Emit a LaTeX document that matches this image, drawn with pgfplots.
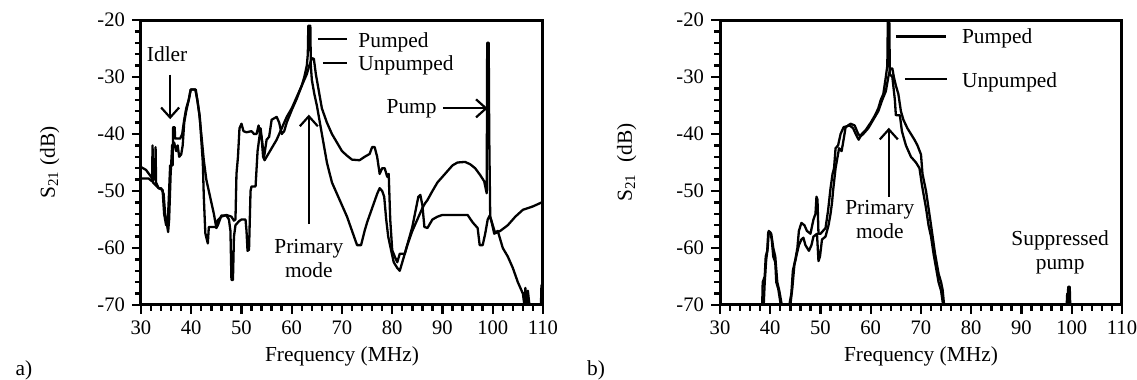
\documentclass[border=0pt]{standalone}
\usepackage{fontspec}
\setmainfont{Liberation Serif}
\usepackage{pgfplots}
\pgfplotsset{compat=1.18}
\usetikzlibrary{arrows.meta}

\pgfplotsset{
  myax/.style={
    scale only axis, width=201pt, height=142.5pt,
    xmin=30, xmax=110, ymin=-70, ymax=-20,
    xtick={30,40,...,110}, ytick={-70,-60,...,-20},
    minor xtick={32,34,...,108}, minor ytick={-68,-66,...,-22},
    xticklabels={30,40,50,60,70,80,90,100,110},
    yticklabels={-70,-60,-50,-40,-30,-20},
    xtick pos=bottom, ytick pos=left, tick align=outside,
    major tick length=4.5pt, minor tick length=3pt,
    every tick/.style={black, line width=1.2pt},
    axis line style={line width=1.5pt},
    tick label style={font=\fontsize{10.3}{12}\selectfont},
    label style={font=\fontsize{10.7}{12.6}\selectfont},
    xlabel={Frequency (MHz)},
    xlabel style={at={(axis description cs:0.5,-0.182)}, anchor=center},
    every axis plot post/.append style={black, line width=1.15pt, line join=round, mark=none},
  },
}
\tikzset{
  arr/.style={line width=1.1pt, -{Straight Barb[length=5pt,width=9pt,line width=1.1pt]}},
  ann/.style={font=\fontsize{10.7}{12}\selectfont, inner sep=0pt},
}

\begin{document}
\begin{tikzpicture}
\useasboundingbox (0,0) rectangle (568.5pt,190pt);

% ---------------- panel a ----------------
\begin{axis}[myax, at={(70.5pt,37.5pt)}, anchor=south west,
  ylabel={S\textsubscript{21} (dB)},
  ylabel style={at={(axis description cs:-0.227,0.5)}, anchor=center}]
% pumped
\addplot coordinates {
(30,-47.8) (31.5,-47.8) (32.2,-48.3) (32.3,-42) (32.4,-48.5) (33.5,-49.5) (34.3,-49.8) (34.6,-54) (35,-56) (35.3,-56) (35.5,-52) (35.8,-45.5) (36.3,-45.5) (36.4,-38.8) (36.7,-38.8) (36.8,-40.8) (37.8,-40.8) (38.2,-40) (38.6,-37.5) (39,-35.5) (39.5,-34) (39.9,-32.2) (40.9,-32.2) (41.3,-34.5) (41.7,-37) (42,-41) (42.3,-45) (42.5,-51) (42.8,-57.4) (43.1,-58.5) (43.3,-59.2) (43.5,-56.3) (45,-56.3) (45.2,-55.2) (46,-54.5) (47,-54.2) (48,-54.5) (48.5,-55.2) (48.8,-55) (49,-47) (49.3,-44) (49.6,-39) (50,-38.2) (50.4,-39.5) (51,-39.7) (52,-39.5) (52.5,-40) (53,-40) (53.4,-38.5) (53.7,-40) (54,-40.5) (54.3,-44) (54.6,-44.6) (55,-44) (56,-42.5) (57,-41) (58,-39) (59,-37) (60,-35.5) (61,-33.5) (62,-31.5) (62.5,-30) (63,-28) (63.2,-26) (63.3,-21) (63.7,-21) (63.8,-28) (64,-30.5) (64.5,-33) (65,-35) (65.5,-37.5) (66,-40) (66.5,-42.5) (67,-45) (68,-48.5) (69,-50.5) (70,-52.5) (71,-54.5) (72,-57) (73,-59.5) (73.8,-59.5) (74.5,-57) (75,-55.5) (76,-53) (77,-50.5) (77.5,-49.5) (78,-50) (78.4,-51) (78.8,-55) (79.2,-58) (79.8,-60.5) (80.3,-62.5) (81,-63.5) (81.5,-64) (82,-62.5) (83,-59.5) (84,-57) (85,-55) (86,-53) (86.5,-52.2) (87,-51.6) (88,-50) (89,-48.5) (90,-47.5) (91,-46.5) (92,-45.5) (93,-45) (94.5,-44.9) (95.5,-45.3) (96.5,-46) (97.5,-47.2) (98.3,-48.3) (98.8,-50.4) (98.9,-24) (99.2,-24) (99.3,-40) (99.5,-54.5) (100,-56) (100.5,-57.4) (101.5,-57) (103,-56) (104.5,-54.5) (106,-53.3) (108,-52.7) (110,-51.9)
};
% unpumped
\addplot coordinates {
(30,-45.8) (31,-46.3) (32,-47.5) (32.8,-48) (32.9,-42.3) (33,-48.5) (33.5,-49.5) (34,-49.5) (34.5,-50.5) (34.8,-54) (35.1,-55.5) (35.4,-57.2) (35.6,-55) (35.9,-47) (36.2,-42) (36.6,-41.5) (37,-43) (37.3,-42) (37.6,-44) (38,-43.6) (38.3,-42) (38.6,-38) (39,-36) (39.5,-34) (39.9,-32.2) (40.8,-32.2) (41.2,-34) (41.6,-36.5) (42,-40) (42.5,-44.6) (43,-48) (43.5,-50) (44,-52) (44.5,-54) (45,-56.5) (45.3,-56) (46,-54.3) (47,-54.3) (47.5,-55) (47.8,-57) (48,-65.6) (48.3,-65.6) (48.5,-58) (48.8,-56) (49.5,-55.3) (50,-55) (50.8,-55) (51,-57) (51.2,-60.5) (51.5,-60.3) (51.8,-50) (52,-49.2) (52.8,-49.2) (53.2,-43) (53.5,-41) (53.8,-39) (54.2,-42) (54.5,-44) (55,-41) (55.5,-40.5) (56,-37.5) (57,-37) (57.5,-38) (58,-40) (58.5,-39.5) (59,-38) (60,-35.8) (61,-33.8) (62,-31.5) (63,-29.5) (63.5,-28) (64,-26.7) (64.4,-26.8) (64.8,-29.5) (65,-30.5) (65.5,-33) (66,-35.5) (67,-38) (68,-40) (69,-41.5) (70,-43) (71,-43.8) (72,-44.5) (73.5,-44.6) (74.5,-44) (75.5,-43.5) (76,-42.3) (76.5,-42.3) (77,-44) (77.5,-47) (78,-46) (78.5,-46) (79,-47.5) (79.3,-47) (79.6,-55) (80,-60.4) (80.5,-61.5) (81,-62.5) (81.5,-61) (82.5,-61) (84,-56.3) (85.2,-51) (85.6,-50.7) (86,-52.5) (86.4,-56.3) (87,-56.5) (88,-55) (89,-54.5) (90,-54.2) (95,-54.2) (96,-55.5) (97,-56.5) (97.4,-59.5) (98,-59.5) (98.5,-57.5) (99,-55) (99.4,-54.3) (99.8,-55.5) (100.3,-57.5) (101,-57) (102,-60) (103,-61.5) (104,-63.5) (105,-66) (106,-68) (106.3,-70) (106.5,-67) (106.7,-70) (107,-67.5) (107.3,-70) (109.6,-70) (109.7,-66.5) (110,-66.5)
};
\node[ann] at (axis cs:35.2,-26) {Idler};
\draw[arr] (axis cs:35.8,-29.6) -- (axis cs:35.8,-37.4);
\draw[line width=1.1pt] (axis cs:65.2,-23.4) -- (axis cs:71,-23.4);
\draw[line width=1.1pt] (axis cs:66.2,-27.5) -- (axis cs:71,-27.5);
\node[ann, anchor=west] at (axis cs:73.2,-24) {Pumped};
\node[ann, anchor=west] at (axis cs:73.2,-27.9) {Unpumped};
\node[ann, anchor=east] at (axis cs:88.9,-35.6) {Pump};
\draw[arr] (axis cs:90.1,-35.5) -- (axis cs:99,-35.5);
\draw[arr] (axis cs:63.4,-55.8) -- (axis cs:63.4,-36.6);
\node[ann, align=center] at (axis cs:63.4,-61.8) {Primary\\mode};
\end{axis}

% ---------------- panel b ----------------
\begin{axis}[myax, at={(360pt,37.5pt)}, anchor=south west,
  ylabel={S\textsubscript{21}\ \ (dB)},
  ylabel style={at={(axis description cs:-0.232,0.5)}, anchor=center}]
% pumped
\addplot coordinates {
(30,-70) (38.4,-70) (38.5,-66) (38.9,-65) (39.1,-61.5) (39.4,-60.5) (39.6,-57.2) (40,-57.2) (40.3,-58.5) (40.6,-61.5) (41,-62.5) (41.2,-66) (41.6,-67.2) (42.1,-70) (43.8,-70) (44.2,-68) (44.5,-64) (45,-62) (45.4,-60) (45.7,-57) (46.2,-55.6) (46.8,-56) (47.3,-57) (48,-57.5) (48.6,-55) (49,-54) (49.2,-51) (49.4,-51.5) (49.6,-57.5) (50,-57.5) (50.5,-57) (51,-56.5) (51.5,-53.5) (52,-49.5) (52.4,-47) (52.7,-46) (53,-42.5) (53.5,-42) (54,-40) (54.6,-38.8) (55.8,-38.5) (56.5,-39) (57,-40) (57.6,-41) (58.2,-40) (59,-39.3) (60,-38) (60.8,-36.8) (61.5,-35.5) (62,-34) (62.5,-33) (63,-30) (63.3,-28) (63.4,-20.3) (63.7,-20.3) (63.8,-29.5) (64.3,-30) (64.8,-34) (65,-36.7) (65.8,-36.7) (66.2,-39.5) (67,-42) (68,-44) (69,-45) (69.7,-46) (70.2,-49) (71,-53) (71.5,-56) (72,-58) (72.5,-61) (73,-63.5) (73.5,-66) (74,-67.5) (74.4,-70) (99,-70) (99.1,-68) (99.3,-68) (99.4,-70) (110,-70)
};
% unpumped
\addplot coordinates {
(30,-70) (38.7,-70) (38.9,-66) (39.2,-62) (39.5,-60) (39.7,-57) (40.2,-57.5) (40.6,-60) (41,-61.5) (41.4,-66) (41.8,-67.5) (42.3,-70) (44,-70) (44.4,-67) (44.8,-63) (45.3,-61) (45.7,-59.5) (46.2,-58.5) (46.6,-58.2) (47,-59.5) (47.7,-60.5) (48.2,-59.5) (48.6,-58) (49.3,-57.5) (49.6,-62.3) (49.9,-61.5) (50.3,-58.5) (51,-58) (51.6,-56) (52,-54) (52.3,-52) (52.5,-50) (53,-46) (53.3,-44.5) (53.7,-42.5) (54.2,-43) (54.5,-41.5) (55,-38.8) (56,-38.2) (56.8,-38.5) (57.5,-40) (58,-40.4) (58.5,-40) (59.5,-39) (60.5,-37.5) (61.5,-36) (62.3,-34) (63,-32.5) (63.5,-30) (63.9,-28.5) (64.3,-28.5) (64.6,-30) (65,-31.5) (65.5,-33) (66,-36) (66.5,-37.5) (67.3,-39) (68,-40) (68.7,-41) (69.3,-42) (70,-43.6) (70.3,-47) (71,-50) (71.5,-53) (72,-56) (72.8,-61) (73.5,-64.5) (74,-66) (74.3,-67.3) (74.6,-70) (99.2,-70) (99.3,-66.8) (99.6,-66.8) (99.7,-70) (110,-70)
};
\draw[line width=1.1pt] (axis cs:65,-22.9) -- (axis cs:75,-22.9);
\draw[line width=1.1pt] (axis cs:66.8,-30.4) -- (axis cs:75.1,-30.4);
\node[ann, anchor=west] at (axis cs:78.1,-23.2) {Pumped};
\node[ann, anchor=west] at (axis cs:78.1,-31) {Unpumped};
\draw[arr] (axis cs:63.6,-51) -- (axis cs:63.6,-38.9);
\node[ann, align=center] at (axis cs:61.8,-55) {Primary\\mode};
\node[ann, align=center] at (axis cs:97.7,-60.8) {Suppressed\\pump};
\end{axis}

\node[font=\fontsize{10.7}{12}\selectfont, inner sep=0pt] at (12pt,5pt) {a)};
\node[font=\fontsize{10.7}{12}\selectfont, inner sep=0pt] at (298pt,5pt) {b)};
\end{tikzpicture}
\end{document}
